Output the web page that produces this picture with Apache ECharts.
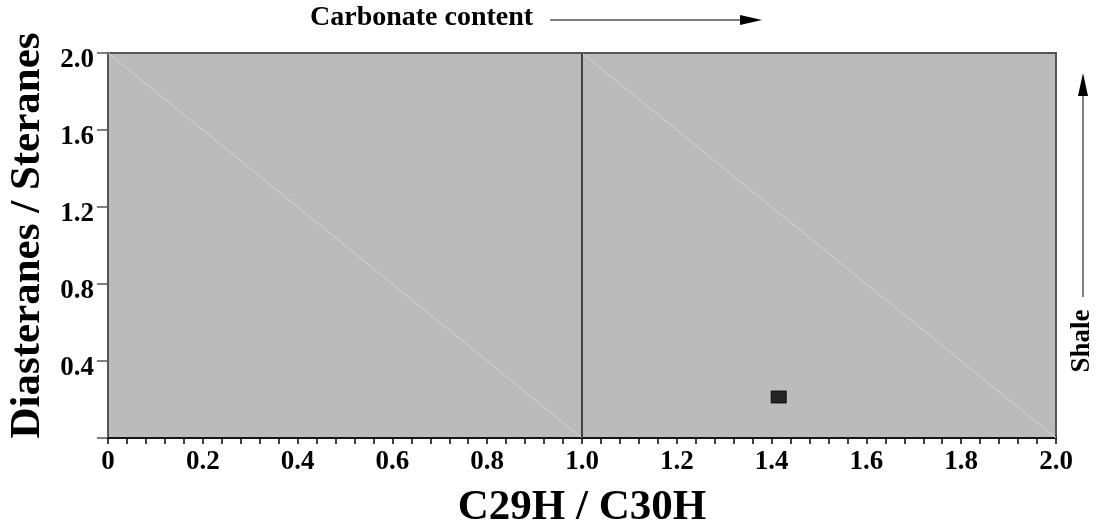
<!DOCTYPE html>
<html><head><meta charset="utf-8">
<script src="https://cdn.jsdelivr.net/npm/echarts@6/dist/echarts.min.js"></script>
<style>html,body{margin:0;padding:0;background:#fff}#c{width:1099px;height:524px}</style>
</head><body><div id="c"></div>
<script>
const samplePoints = [[1.415, 0.213]];
const diagonal1 = [[0, 2.0], [1.0, 0]];
const diagonal2 = [[1.0, 2.0], [2.0, 0]];
const divider = [[1.0, 0], [1.0, 2.0]];
const xTicks = [0, 0.2, 0.4, 0.6, 0.8, 1.0, 1.2, 1.4, 1.6, 1.8, 2.0];
const yTicks = [0.4, 0.8, 1.2, 1.6, 2.0];
const serif = '"Liberation Serif","DejaVu Serif",serif';
const chart = echarts.init(document.getElementById('c'));
chart.setOption({
  animation: false,
  grid: {left: 108, right: 43, top: 53, bottom: 86, containLabel: false, outerBoundsMode: 'none', show: true, backgroundColor: '#bbbbbb', borderColor: '#555', borderWidth: 2},
  xAxis: {
    type: 'value', min: 0, max: 2, interval: 0.2,
    name: 'C29H / C30H', nameLocation: 'middle', nameGap: 48,
    nameTextStyle: {fontFamily: serif, fontWeight: 'bold', fontSize: 43, color: '#000'},
    axisLine: {show: true, lineStyle: {color: '#000', width: 1.5}},
    axisTick: {show: true, length: 6, lineStyle: {color: '#000', width: 1.5}},
    minorTick: {show: true, splitNumber: 5, length: 6, lineStyle: {color: '#000', width: 1.5}},
    splitLine: {show: false},
    axisLabel: {fontFamily: serif, fontWeight: 'bold', fontSize: 27, color: '#000', margin: 11,
      formatter: v => { const t = xTicks.find(x => Math.abs(x - v) < 1e-6); return t === 0 ? '0' : t.toFixed(1); }}
  },
  yAxis: {
    type: 'value', min: 0, max: 2, interval: 0.4,
    name: 'Diasteranes / Steranes', nameLocation: 'middle', nameGap: 58,
    nameTextStyle: {fontFamily: serif, fontWeight: 'bold', fontSize: 43, color: '#000', padding: [0, 0, 0, 20]},
    axisLine: {show: true, lineStyle: {color: '#555', width: 2}},
    axisTick: {show: true, length: 11, lineStyle: {color: '#555', width: 1.5}},
    splitLine: {show: false},
    axisLabel: {fontFamily: serif, fontWeight: 'bold', fontSize: 27, color: '#000', margin: 14, verticalAlign: 'top', lineHeight: 14,
      formatter: v => { const t = yTicks.find(y => Math.abs(y - v) < 1e-6); return t === undefined ? '' : t.toFixed(1); }}
  },
  series: [
    {type: 'line', data: diagonal1, symbol: 'none', lineStyle: {color: '#d4d4d4', width: 1}, silent: true},
    {type: 'line', data: diagonal2, symbol: 'none', lineStyle: {color: '#d4d4d4', width: 1}, silent: true},
    {type: 'line', data: divider, symbol: 'none', lineStyle: {color: '#444', width: 2}, silent: true},
    {type: 'scatter', data: samplePoints, symbol: 'rect', symbolSize: [15, 12], itemStyle: {color: '#000', borderColor: '#000', borderWidth: 1}}
  ],
  graphic: [
    {type: 'text', left: 310, top: 4, style: {text: 'Carbonate content', font: 'bold 28px ' + serif, fill: '#000'}},
    {type: 'line', shape: {x1: 550, y1: 20, x2: 745, y2: 20}, style: {stroke: '#000', lineWidth: 1}},
    {type: 'polygon', shape: {points: [[740, 15], [762, 20], [740, 25]]}, style: {fill: '#000'}},
    {type: 'text', x: 1082, y: 341, rotation: Math.PI / 2, style: {text: 'Shale', font: 'bold 27px ' + serif, fill: '#000', align: 'center', verticalAlign: 'middle'}},
    {type: 'line', shape: {x1: 1083, y1: 297, x2: 1083, y2: 92}, style: {stroke: '#000', lineWidth: 1}},
    {type: 'polygon', shape: {points: [[1078, 96], [1083, 73], [1088, 96]]}, style: {fill: '#000'}}
  ]
});
</script></body></html>
